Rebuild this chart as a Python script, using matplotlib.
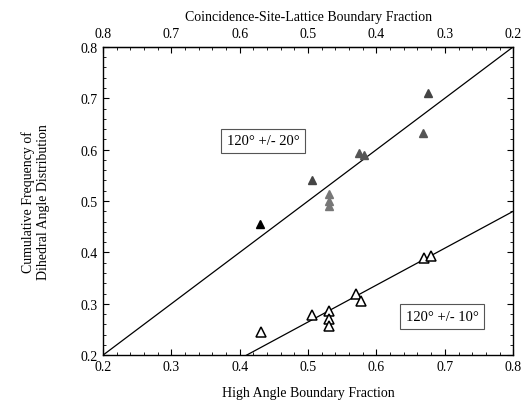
import matplotlib.pyplot as plt
from matplotlib.ticker import AutoMinorLocator

# 120 +/- 20 deg series (filled triangles)
hab_20 = [0.43, 0.506, 0.531, 0.531, 0.531, 0.575, 0.582, 0.668, 0.676]
freq_20 = [0.456, 0.541, 0.514, 0.500, 0.490, 0.594, 0.590, 0.632, 0.711]
shade_20 = ['black', '#444444', '#777777', '#777777', '#777777', '#555555', '#555555', '#555555', '#444444']

# 120 +/- 10 deg series (open triangles)
hab_10 = [0.431, 0.506, 0.531, 0.531, 0.531, 0.570, 0.578, 0.670, 0.680]
freq_10 = [0.245, 0.279, 0.285, 0.271, 0.256, 0.320, 0.305, 0.389, 0.393]

# fitted lines
fit20_x = [0.2, 0.8]
fit20_y = [0.2, 0.8]
fit10_x = [0.41, 0.8]
fit10_y = [0.2, 0.48]

plt.rcParams['font.family'] = ['Liberation Serif', 'DejaVu Serif']

fig = plt.figure(figsize=(5.28, 4.02), dpi=100)
ax = fig.add_axes([0.195, 0.114, 0.777, 0.767])

ax.plot(fit20_x, fit20_y, color='black', lw=0.9)
ax.plot(fit10_x, fit10_y, color='black', lw=0.9)

for x, y, c in zip(hab_20, freq_20, shade_20):
    ax.plot(x, y, marker='^', ms=6, color=c, mec=c, ls='none')
ax.plot(hab_10, freq_10, marker='^', ms=7, mfc='white', mec='black', mew=1.1, ls='none')

ax.text(0.434, 0.617, '120° +/- 20°', fontsize=10.5, ha='center', va='center',
        bbox=dict(boxstyle='square,pad=0.4', fc='white', ec='#555555', lw=0.8))
ax.text(0.696, 0.275, '120° +/- 10°', fontsize=10.5, ha='center', va='center',
        bbox=dict(boxstyle='square,pad=0.4', fc='white', ec='#555555', lw=0.8))

ax.set_xlim(0.2, 0.8)
ax.set_ylim(0.2, 0.8)
ax.set_xticks([0.2, 0.3, 0.4, 0.5, 0.6, 0.7, 0.8])
ax.set_yticks([0.2, 0.3, 0.4, 0.5, 0.6, 0.7, 0.8])
ax.xaxis.set_minor_locator(AutoMinorLocator(5))
ax.yaxis.set_minor_locator(AutoMinorLocator(5))
ax.tick_params(which='both', direction='in', right=True, labelsize=10)
ax.tick_params(which='major', length=4)
ax.tick_params(which='minor', length=2)

ax.set_xlabel('High Angle Boundary Fraction', fontsize=10, labelpad=9)
ax.set_ylabel('Cumulative Frequency of\nDihedral Angle Distribution', fontsize=10, labelpad=22)

top = ax.secondary_xaxis('top', functions=(lambda x: 1 - x, lambda x: 1 - x))
top.set_xticks([0.8, 0.7, 0.6, 0.5, 0.4, 0.3, 0.2])
top.xaxis.set_minor_locator(AutoMinorLocator(5))
top.tick_params(which='both', direction='in', labelsize=10, pad=5)
top.tick_params(which='major', length=4)
top.tick_params(which='minor', length=2)
top.set_xlabel('Coincidence-Site-Lattice Boundary Fraction', fontsize=10, labelpad=5)

for s in ax.spines.values():
    s.set_linewidth(1.0)

fig.savefig('out.png', dpi=100)
